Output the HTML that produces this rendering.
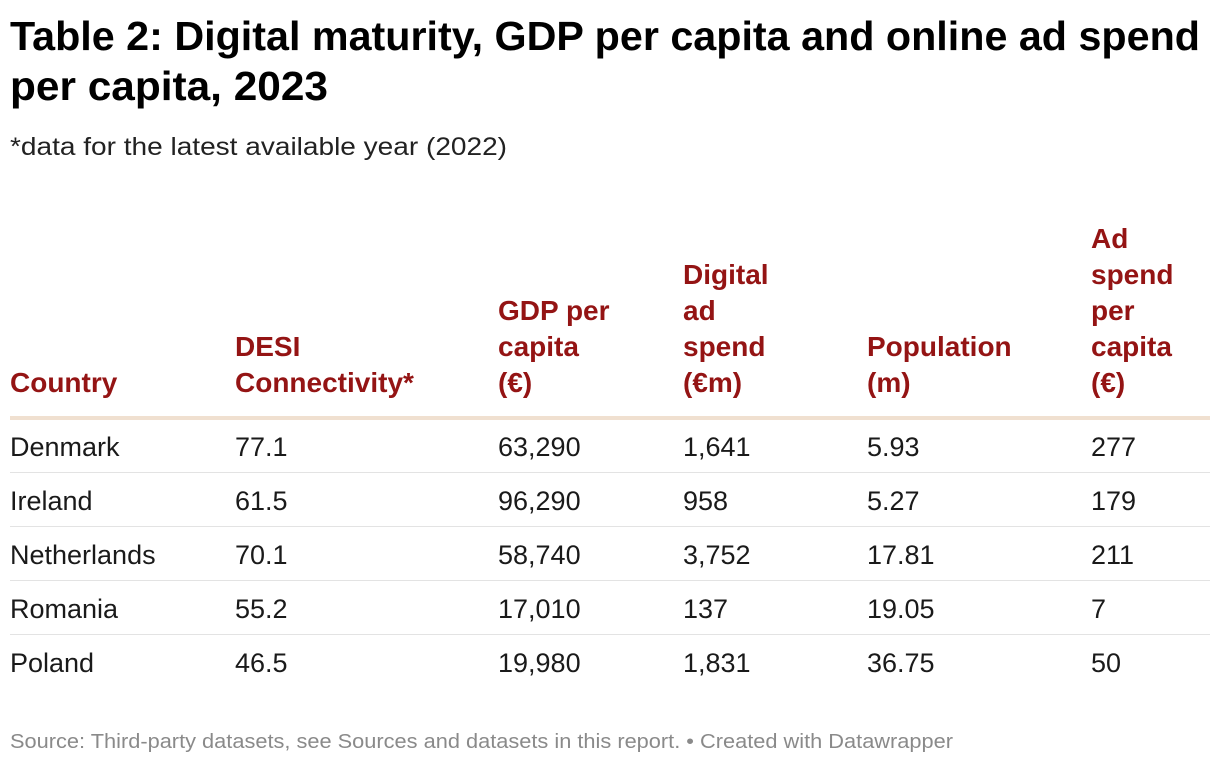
<!DOCTYPE html>
<html><head><meta charset="utf-8"><style>
html,body{margin:0;padding:0;background:#fff;}
svg{display:block;font-family:"Liberation Sans",Arial,sans-serif;}
.h{font-weight:bold;fill:#941414;font-size:28px;}
.b{fill:#1a1a1a;font-size:27px;}
</style></head><body>
<svg width="1220" height="764" viewBox="0 0 1220 764">
<text x="10" y="50" font-size="41" font-weight="bold" fill="#000" textLength="1190" lengthAdjust="spacingAndGlyphs">Table 2: Digital maturity, GDP per capita and online ad spend</text>
<text x="10" y="100" font-size="41" font-weight="bold" fill="#000" textLength="318" lengthAdjust="spacingAndGlyphs">per capita, 2023</text>
<text x="10" y="155" font-size="25" fill="#222" textLength="497" lengthAdjust="spacingAndGlyphs">*data for the latest available year (2022)</text>
<g id="hdr"></g>
<rect x="10" y="416" width="1200" height="4" fill="#f0e0d0"/>
<g id="rows"></g>
<text x="10" y="748" font-size="20" fill="#8a8a8a" textLength="943" lengthAdjust="spacingAndGlyphs">Source: Third-party datasets, see Sources and datasets in this report. • Created with Datawrapper</text>
</svg>
<script>
const colX=[10,235,498,683,867,1091];
const headers=[["Country"],["DESI","Connectivity*"],["GDP per","capita","(€)"],["Digital","ad","spend","(€m)"],["Population","(m)"],["Ad","spend","per","capita","(€)"]];
const countries=["Denmark","Ireland","Netherlands","Romania","Poland"];
const desi=["77.1","61.5","70.1","55.2","46.5"];
const gdp=["63,290","96,290","58,740","17,010","19,980"];
const adSpend=["1,641","958","3,752","137","1,831"];
const population=["5.93","5.27","17.81","19.05","36.75"];
const perCapita=["277","179","211","7","50"];
const NS="http://www.w3.org/2000/svg";
const hdr=document.getElementById('hdr');
headers.forEach((lines,c)=>{
  lines.forEach((ln,i)=>{
    const t=document.createElementNS(NS,'text');
    t.setAttribute('x',colX[c]);
    t.setAttribute('y',392-(lines.length-1-i)*36);
    t.setAttribute('class','h');
    
    
    t.textContent=ln;hdr.appendChild(t);
  });
});
const rows=document.getElementById('rows');
const cols=[countries,desi,gdp,adSpend,population,perCapita];
countries.forEach((_,r)=>{
  cols.forEach((arr,c)=>{
    const t=document.createElementNS(NS,'text');
    t.setAttribute('x',colX[c]);
    t.setAttribute('y',456+r*54);
    t.setAttribute('class','b');
    
    
    t.textContent=arr[r];rows.appendChild(t);
  });
  if(r<countries.length-1){
    const l=document.createElementNS(NS,'rect');
    l.setAttribute('x',10);l.setAttribute('y',472+r*54);
    l.setAttribute('width',1200);l.setAttribute('height',1);
    l.setAttribute('fill','#e3e3e3');
    
    
    rows.appendChild(l);
  }
});
</script>
</body></html>
